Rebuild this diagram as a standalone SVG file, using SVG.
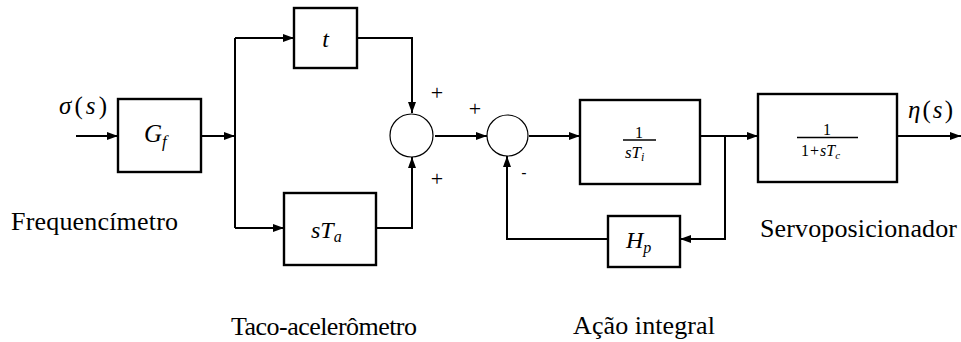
<svg xmlns="http://www.w3.org/2000/svg" width="961" height="342" viewBox="0 0 961 342">
<style>
.box{fill:#fff;stroke:#000;stroke-width:2.4}
.sum{fill:#fff;stroke:#000;stroke-width:1.2}
.wire{fill:none;stroke:#000;stroke-width:2}
.serif{font-family:"Liberation Serif","Times New Roman",Tinos,"DejaVu Serif",serif}
.lbl{font-size:26px;fill:#000}
.m{font-style:italic;fill:#000}
.up{font-style:normal}
.sign{font-size:22px;fill:#000;text-anchor:middle}
.frac{stroke:#000;stroke-width:1.6}
</style>
<defs>
<marker id="arr" markerUnits="userSpaceOnUse" markerWidth="11" markerHeight="8" refX="11" refY="4" orient="auto">
<path d="M0,0 L11,4 L0,8 z" fill="#000"/>
</marker>
</defs>
<rect width="961" height="342" fill="#fff"/>
<g id="connectors">
<path class="wire" d="M76,136 H118" marker-end="url(#arr)"/>
<path class="wire" d="M201,136 H235" marker-end="url(#arr)"/>
<path class="wire" d="M235,38 V228"/>
<path class="wire" d="M235,38 H294" marker-end="url(#arr)"/>
<path class="wire" d="M235,228 H284" marker-end="url(#arr)"/>
<path class="wire" d="M357,38 H412 V113" marker-end="url(#arr)"/>
<path class="wire" d="M376,228 H412 V157" marker-end="url(#arr)"/>
<path class="wire" d="M435,136 H487" marker-end="url(#arr)"/>
<path class="wire" d="M529,136 H580" marker-end="url(#arr)"/>
<path class="wire" d="M700,136 H758" marker-end="url(#arr)"/>
<path class="wire" d="M897,136 H961" marker-end="url(#arr)"/>
<path class="wire" d="M725,136 V239 H680" marker-end="url(#arr)"/>
<path class="wire" d="M608,239 H507 V156" marker-end="url(#arr)"/>
</g>
<g id="input-label">
<text class="serif m" x="59" y="114" font-size="25" textLength="48">σ<tspan class="up">(</tspan>s<tspan class="up">)</tspan></text>
</g>
<g id="Gf">
<rect class="box" x="118" y="99" width="83" height="73"/>
<text class="serif m" x="144" y="142" font-size="25">G<tspan font-size="17" dy="5">f</tspan></text>
</g>
<g id="t-block">
<rect class="box" x="294" y="8" width="63" height="60"/>
<text class="serif m" x="325.5" y="47" font-size="24" text-anchor="middle">t</text>
</g>
<g id="sTa">
<rect class="box" x="284" y="193" width="92" height="72"/>
<text class="serif m" x="311" y="238" font-size="24">sT<tspan font-size="16" dy="4">a</tspan></text>
</g>
<g id="sum1">
<circle class="sum" cx="411.5" cy="135.5" r="21.5"/>
<text class="serif sign" x="437" y="100">+</text>
<text class="serif sign" x="437" y="186">+</text>
</g>
<g id="sum2">
<circle class="sum" cx="507.5" cy="135.5" r="20.5"/>
<text class="serif sign" x="475" y="116">+</text>
<text x="524" y="178" font-family="Liberation Sans, Arial, sans-serif" font-size="16" text-anchor="middle">-</text>
</g>
<g id="integrator">
<rect class="box" x="580" y="100" width="120" height="84"/>
<text class="serif" x="639" y="137.5" font-size="16" text-anchor="middle">1</text>
<line class="frac" x1="623" y1="140" x2="656" y2="140"/>
<text class="serif m" x="625" y="158" font-size="17">sT<tspan font-size="12" dy="3">i</tspan></text>
</g>
<g id="Hp">
<rect class="box" x="608" y="216" width="72" height="51"/>
<text class="serif m" x="626" y="248" font-size="24">H<tspan font-size="16" dy="5">p</tspan></text>
</g>
<g id="servo">
<rect class="box" x="758" y="94" width="139" height="88"/>
<text class="serif" x="827" y="135" font-size="16" text-anchor="middle">1</text>
<line class="frac" x1="797" y1="137.5" x2="858" y2="137.5"/>
<text class="serif m" x="801" y="156" font-size="16"><tspan class="up">1</tspan><tspan class="up" dx="1">+</tspan><tspan dx="1">sT</tspan><tspan font-size="11" dy="3">c</tspan></text>
</g>
<g id="output-label">
<text class="serif m" x="908" y="118" font-size="25" textLength="45">η<tspan class="up">(</tspan>s<tspan class="up">)</tspan></text>
</g>
<g id="captions">
<text class="serif lbl" x="11" y="230" textLength="167">Frequencímetro</text>
<text class="serif lbl" x="231" y="335" textLength="186">Taco-acelerômetro</text>
<text class="serif lbl" x="573" y="334" textLength="142">Ação integral</text>
<text class="serif lbl" x="760" y="237" textLength="197">Servoposicionador</text>
</g>
</svg>
